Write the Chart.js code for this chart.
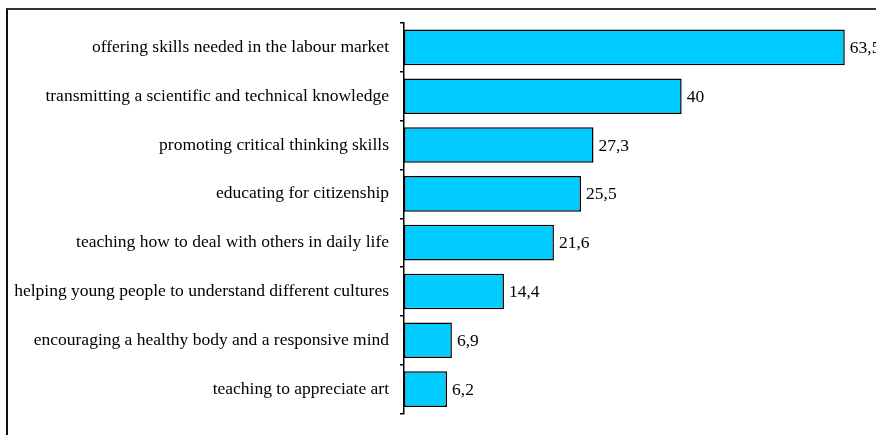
<!DOCTYPE html>
<html>
<head>
<meta charset="utf-8">
<script src="https://cdn.jsdelivr.net/npm/chart.js@4.4.1/dist/chart.umd.min.js"></script>
<style>
  html, body { margin: 0; padding: 0; background: #fff; }
  #wrap { position: relative; width: 876px; height: 435px; overflow: hidden; }
  #frame {
    position: absolute; left: 6px; top: 8px; width: 1000px; height: 1000px;
    border-top: 2px solid #333; border-left: 2px solid #111; box-sizing: border-box;
  }
  canvas { position: absolute; left: 0; top: 0; }
</style>
</head>
<body>
<div id="wrap">
  <div id="frame"></div>
  <canvas id="chart" width="876" height="435"></canvas>
</div>
<script>
const categories = [
  'offering skills needed in the labour market',
  'transmitting a scientific and technical knowledge',
  'promoting critical thinking skills',
  'educating for citizenship',
  'teaching how to deal with others in daily life',
  'helping young people to understand different cultures',
  'encouraging a healthy body and a responsive mind',
  'teaching to appreciate art'
];
const values = [63.5, 40, 27.3, 25.5, 21.6, 14.4, 6.9, 6.2];

const FONT = 'Liberation Serif, "Times New Roman", serif';
const FONT_SIZE = 17.5;

// value labels at the end of each bar, decimal comma
const barLabels = {
  id: 'barLabels',
  afterDatasetsDraw(chart) {
    const ctx = chart.ctx;
    const meta = chart.getDatasetMeta(0);
    ctx.save();
    ctx.font = FONT_SIZE + 'px ' + FONT;
    ctx.fillStyle = '#000';
    ctx.textAlign = 'left';
    ctx.textBaseline = 'middle';
    meta.data.forEach((bar, i) => {
      ctx.fillText(String(values[i]).replace('.', ','), bar.x + 5, bar.y + 1);
    });
    ctx.restore();
  }
};

new Chart(document.getElementById('chart'), {
  type: 'bar',
  data: {
    labels: categories,
    datasets: [{
      data: values,
      backgroundColor: '#00CCFF',
      borderColor: '#000',
      borderWidth: 1.5,
      borderSkipped: false,
      barPercentage: 0.73,
      categoryPercentage: 1
    }]
  },
  options: {
    indexAxis: 'y',
    responsive: false,
    animation: false,
    layout: { padding: { top: 23, bottom: 11, left: 0, right: 0 } },
    plugins: { legend: { display: false }, tooltip: { enabled: false } },
    scales: {
      x: { display: false, min: 0, max: 68 },
      y: {
        afterFit(scale) { scale.width = 404; },
        grid: { drawOnChartArea: false, drawTicks: true, tickLength: 4, color: '#000', lineWidth: 1.5, offset: true },
        border: { display: true, color: '#000', width: 1.5 },
        ticks: { color: '#000', padding: 11, font: { family: FONT, size: FONT_SIZE } }
      }
    }
  },
  plugins: [barLabels]
});
</script>
</body>
</html>
